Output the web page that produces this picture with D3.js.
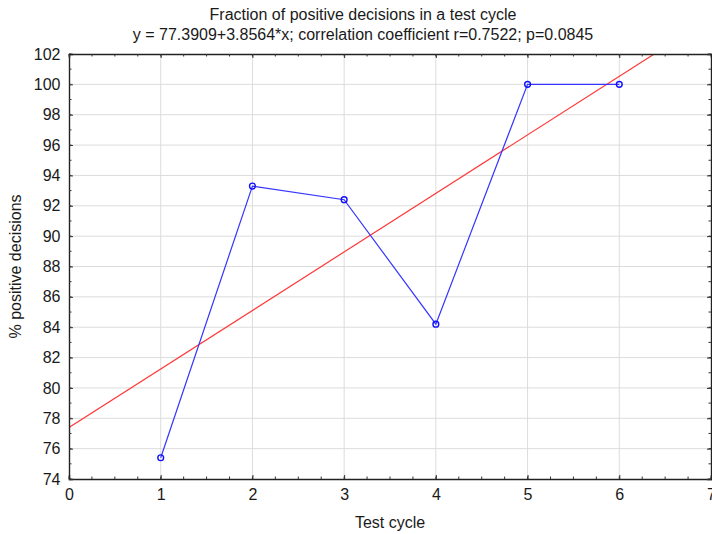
<!DOCTYPE html>
<html>
<head>
<meta charset="utf-8">
<script src="https://cdn.jsdelivr.net/npm/d3@7"></script>
<style>
  html, body { margin: 0; padding: 0; background: #fff; }
  svg { display: block; font-family: "Liberation Sans", Arial, sans-serif; }
</style>
</head>
<body>
<svg id="chart" width="712" height="534"></svg>
<script>
// Test cycles and the share of positive decisions in each
const cycles = [1, 2, 3, 4, 5, 6];
const positivePct = [75.4, 93.3, 92.4, 84.2, 100, 100];

// Linear fit reported in the subtitle
const fitIntercept = 77.3909;
const fitSlope = 3.8564;

const xTicks = [0, 1, 2, 3, 4, 5, 6, 7];
const yTicks = [74, 76, 78, 80, 82, 84, 86, 88, 90, 92, 94, 96, 98, 100, 102];

const titleLines = [
  "Fraction of positive decisions in a test cycle",
  "y = 77.3909+3.8564*x; correlation coefficient r=0.7522; p=0.0845"
];

const svg = d3.select("#chart");
const m = { left: 69, right: 711, top: 54, bottom: 479 };
const fontSize = "16px";

const x = d3.scaleLinear().domain([0, 7]).range([m.left, m.right]);
const y = d3.scaleLinear().domain([74, 102]).range([m.bottom, m.top]);

// grid
const grid = svg.append("g");
grid.selectAll("line.vx").data(xTicks.slice(1, -1)).join("line")
  .attr("x1", d => x(d)).attr("x2", d => x(d))
  .attr("y1", m.top).attr("y2", m.bottom)
  .attr("stroke", "#dcdcdc").attr("stroke-width", 1);
grid.selectAll("line.hy").data(yTicks.slice(1, -1)).join("line")
  .attr("x1", m.left).attr("x2", m.right)
  .attr("y1", d => y(d)).attr("y2", d => y(d))
  .attr("stroke", "#dcdcdc").attr("stroke-width", 1);

// clip for data marks
svg.append("clipPath").attr("id", "plot")
  .append("rect").attr("x", m.left).attr("y", m.top)
  .attr("width", m.right - m.left).attr("height", m.bottom - m.top);

// regression line
svg.append("line")
  .attr("clip-path", "url(#plot)")
  .attr("x1", x(0)).attr("y1", y(fitIntercept))
  .attr("x2", x(7)).attr("y2", y(fitIntercept + fitSlope * 7))
  .attr("stroke", "#ff3838").attr("stroke-width", 1.2);

// observed series
const pts = cycles.map((c, i) => [c, positivePct[i]]);
svg.append("path")
  .datum(pts)
  .attr("fill", "none")
  .attr("stroke", "#3535ff").attr("stroke-width", 1.2)
  .attr("d", d3.line().x(d => x(d[0])).y(d => y(d[1])));
svg.selectAll("circle.pt").data(pts).join("circle")
  .attr("cx", d => x(d[0])).attr("cy", d => y(d[1])).attr("r", 2.9)
  .attr("fill", "none").attr("stroke", "#1010ff").attr("stroke-width", 1.4);

// axes with inward ticks
const fmt = d3.format("d");
const minorX = d3.range(0, 7.001, 0.25);
const minorY = d3.range(74, 102.001, 1);

const axB = svg.append("g").attr("transform", `translate(0,${m.bottom})`)
  .call(d3.axisBottom(x).tickValues(xTicks).tickFormat(fmt).tickSize(-4).tickPadding(10));
const axL = svg.append("g").attr("transform", `translate(${m.left},0)`)
  .call(d3.axisLeft(y).tickValues(yTicks).tickFormat(fmt).tickSize(-4).tickPadding(8.5));
const axT = svg.append("g").attr("transform", `translate(0,${m.top})`)
  .call(d3.axisTop(x).tickValues(xTicks).tickFormat("").tickSize(-4));
const axR = svg.append("g").attr("transform", `translate(${m.right},0)`)
  .call(d3.axisRight(y).tickValues(yTicks).tickFormat("").tickSize(-4));

// minor ticks
axB.append("g").selectAll("line").data(minorX).join("line")
  .attr("x1", d => x(d)).attr("x2", d => x(d)).attr("y1", 0).attr("y2", -2.5);
axL.append("g").selectAll("line").data(minorY).join("line")
  .attr("y1", d => y(d)).attr("y2", d => y(d)).attr("x1", 0).attr("x2", 2.5);
axT.append("g").selectAll("line").data(minorX).join("line")
  .attr("x1", d => x(d)).attr("x2", d => x(d)).attr("y1", 0).attr("y2", 2.5);
axR.append("g").selectAll("line").data(minorY).join("line")
  .attr("y1", d => y(d)).attr("y2", d => y(d)).attr("x1", 0).attr("x2", -2.5);

[axB, axL, axT, axR].forEach(g => {
  g.select(".domain").attr("stroke", "#222").attr("stroke-width", 1.4);
  g.selectAll("line").attr("stroke", "#333");
  g.selectAll("text").attr("fill", "#1a1a1a")
    .style("font-family", "'Liberation Sans', Arial, sans-serif").style("font-size", fontSize);
});

// titles
svg.append("g").selectAll("text").data(titleLines).join("text")
  .attr("x", 363).attr("y", (d, i) => 20 + i * 20)
  .attr("text-anchor", "middle")
  .attr("fill", "#1a1a1a").style("font-size", fontSize)
  .text(d => d);

svg.append("text")
  .attr("x", 390).attr("y", 528)
  .attr("text-anchor", "middle").attr("fill", "#1a1a1a").style("font-size", fontSize)
  .text("Test cycle");

svg.append("text")
  .attr("transform", `translate(21,${(m.top + m.bottom) / 2}) rotate(-90)`)
  .attr("text-anchor", "middle").attr("fill", "#1a1a1a").style("font-size", fontSize)
  .text("% positive decisions");
</script>
</body>
</html>
